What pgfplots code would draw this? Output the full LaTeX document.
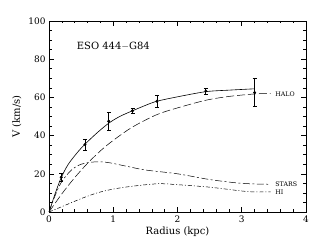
\documentclass[border=0pt]{standalone}
\usepackage{fontspec}
\setmainfont{DejaVu Serif}
\usepackage{pgfplots}
\pgfplotsset{compat=1.18}
\begin{document}
\begin{tikzpicture}
\begin{axis}[name=ax, scale only axis, width=257bp, height=191bp,
  xmin=0, xmax=4, ymin=0, ymax=100,
  xtick={0,1,2,3,4}, ytick={0,20,40,60,80,100},
  minor x tick num=4, minor y tick num=3,
  tick align=inside, major tick length=5bp, minor tick length=2.5bp,
  tick style={black, line width=0.5pt},
  axis line style={line width=0.6pt},
  xlabel={Radius (kpc)}, ylabel={V (km/s)},
  /pgf/number format/assume math mode=true,
  tick label style={font=\fontsize{9}{10}\selectfont},
  label style={font=\fontsize{10}{12}\selectfont},
  xlabel style={yshift=2bp},
  clip=false]
% total (solid)
\addplot[black, line width=0.6pt, smooth, tension=0.5] coordinates {
 (0,0) (0.1,10) (0.19,18) (0.3,25) (0.45,31.5) (0.56,35.5) (0.75,41.5) (0.93,46.5)
 (1.1,50) (1.3,53) (1.5,55.8) (1.68,58) (2,60.3) (2.44,63) (2.8,63.8) (3.2,64.5)};
% halo (long dash)
\addplot[black, line width=0.5pt, smooth, tension=0.5, dash pattern=on 8pt off 3pt] coordinates {
 (0,0) (0.2,9.5) (0.4,18) (0.6,25.5) (0.8,32) (1.0,37.5) (1.3,44.5) (1.68,51)
 (2,54.5) (2.44,58.5) (2.8,60.5) (3.2,61.8) (3.45,62)};
% stars (dashed)
\addplot[black, line width=0.5pt, smooth, tension=0.5, dash pattern=on 7pt off 2.5pt on 2pt off 2.5pt] coordinates {
 (0,0) (0.1,9) (0.2,16) (0.35,22) (0.5,25) (0.7,26.2) (0.9,26) (1.2,24) (1.5,22)
 (2,20) (2.5,17) (3,15) (3.45,14.5)};
% HI (dash-dot)
\addplot[black, line width=0.5pt, smooth, tension=0.5, dash pattern=on 4pt off 2pt on 1pt off 2pt] coordinates {
 (0,0) (0.25,3.5) (0.5,7) (0.75,10) (1,12) (1.3,13.5) (1.7,14.8) (2,14.3)
 (2.5,13) (3,11) (3.2,10.5) (3.45,10.5)};
% data with error bars
\addplot[black, only marks, mark=*, mark size=1.3pt,
  error bars/.cd, y dir=both, y explicit,
  error bar style={line width=0.6pt}, error mark options={rotate=90, mark size=2pt}]
 coordinates {
 (0.19,18.2) +- (0,2.2)
 (0.56,35.3) +- (0,2.9)
 (0.93,47.5) +- (0,4.5)
 (1.30,53.0) +- (0,1.5)
 (1.68,58.0) +- (0,3.0)
 (2.44,63.3) +- (0,1.5)};
\addplot[black, only marks, mark=*, mark size=1.3pt,
  error bars/.cd, y dir=both, y explicit,
  error bar style={line width=1.2pt}, error mark options={rotate=90, mark size=2pt}]
 coordinates {(3.20,62.5) +- (0,7.3)};
\node[anchor=west, font=\fontsize{10}{12}\selectfont] at (axis cs:0.38,87) {ESO 444$-$G84};
\node[anchor=west, font=\fontsize{6.3}{7}\selectfont, inner sep=0pt] at (axis cs:3.52,61.8) {HALO};
\node[anchor=west, font=\fontsize{6.3}{7}\selectfont, inner sep=0pt] at (axis cs:3.52,14.5) {STARS};
\node[anchor=west, font=\fontsize{6.3}{7}\selectfont, inner sep=0pt] at (axis cs:3.52,10.5) {HI};
\end{axis}
\pgfresetboundingbox
\path ([shift={(-49bp,-39bp)}]ax.south west) rectangle ([shift={(21bp,21bp)}]ax.north east);
\end{tikzpicture}
\end{document}
